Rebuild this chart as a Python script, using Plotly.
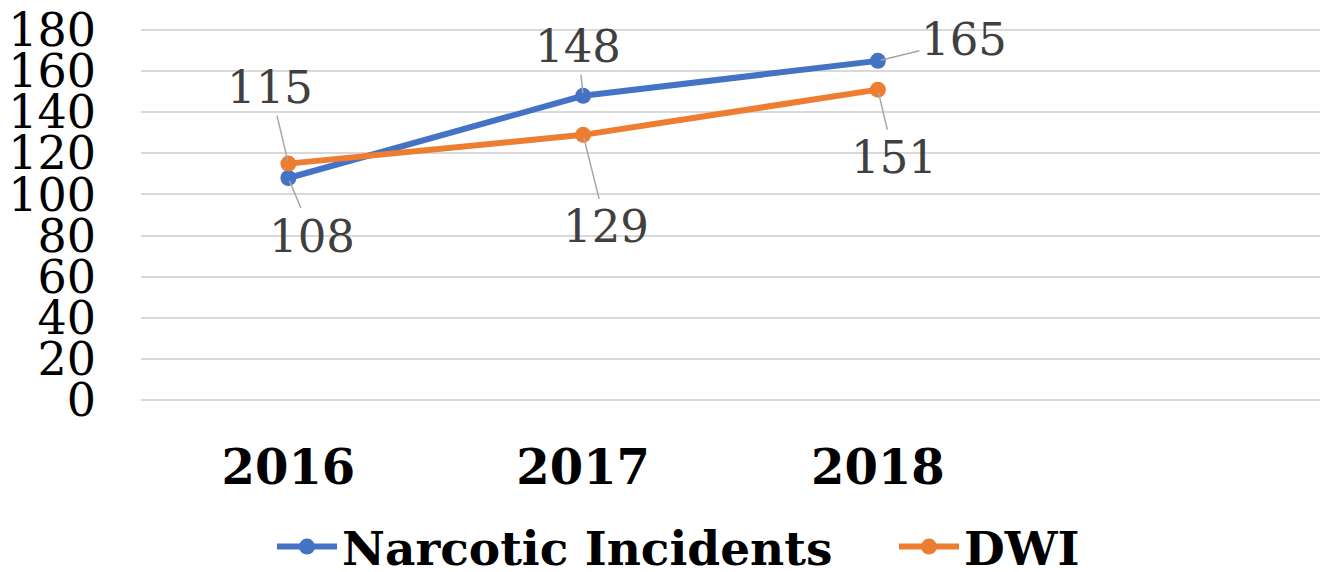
import plotly.graph_objects as go

years = ["2016", "2017", "2018"]
narcotic = [108, 148, 165]
dwi = [115, 129, 151]
y_ticks = [0, 20, 40, 60, 80, 100, 120, 140, 160, 180]

BLUE = "#4472C4"
ORANGE = "#ED7D31"
SERIF = "DejaVu Serif"

fig = go.Figure()
fig.add_trace(go.Scatter(x=years, y=narcotic, name="Narcotic Incidents", mode="lines+markers",
                         line=dict(color=BLUE, width=6), marker=dict(size=16, color=BLUE),
                         legend="legend"))
fig.add_trace(go.Scatter(x=years, y=dwi, name="DWI", mode="lines+markers",
                         line=dict(color=ORANGE, width=6), marker=dict(size=16, color=ORANGE),
                         legend="legend2"))

# data label offsets (pixels) for leader lines
label_offsets_n = [(24, 58), (-5, -49), (86, -21)]
label_offsets_d = [(-18, -76), (23, 92), (16, 68)]
for series, offs in ((narcotic, label_offsets_n), (dwi, label_offsets_d)):
    for i, (yv, (ax, ay)) in enumerate(zip(series, offs)):
        fig.add_annotation(x=i, y=yv, xref="x", yref="y", text=str(yv), showarrow=True,
                           arrowhead=0, arrowwidth=1.5, arrowcolor="#A6A6A6", ax=ax, ay=ay,
                           standoff=3,
                           font=dict(family=SERIF, size=45, color="#404040"))

W, H = 1321, 572
legend_font = dict(family=SERIF, size=47, color="black", weight="bold")
fig.update_layout(
    width=W, height=H,
    margin=dict(l=141, r=1, t=29, b=171, autoexpand=False),
    paper_bgcolor="white", plot_bgcolor="white",
    showlegend=True,
    legend=dict(orientation="h", x=272 / W, xanchor="left", xref="container",
                y=1 - 547 / H, yanchor="middle", yref="container",
                itemwidth=60, font=legend_font, bgcolor="rgba(0,0,0,0)"),
    legend2=dict(orientation="h", x=894 / W, xanchor="left", xref="container",
                 y=1 - 547 / H, yanchor="middle", yref="container",
                 itemwidth=60, font=legend_font, bgcolor="rgba(0,0,0,0)"),
    xaxis=dict(type="category", categoryarray=years, range=[-0.5, 3.5],
               showgrid=False, showline=False, zeroline=False, ticks="",
               ticklabelstandoff=34,
               tickfont=dict(family=SERIF, size=48, color="black", weight="bold")),
    yaxis=dict(range=[-0.5, 180.5], tickvals=y_ticks, showgrid=True, gridcolor="#D9D9D9",
               gridwidth=1.5, zeroline=False, showline=False, ticks="",
               ticklabelstandoff=44, ticklabeloverflow="allow",
               tickfont=dict(family=SERIF, size=46, color="black")),
)

fig.write_html("out.html", config={"displayModeBar": False},
               post_script="document.body.style.margin='0';")
